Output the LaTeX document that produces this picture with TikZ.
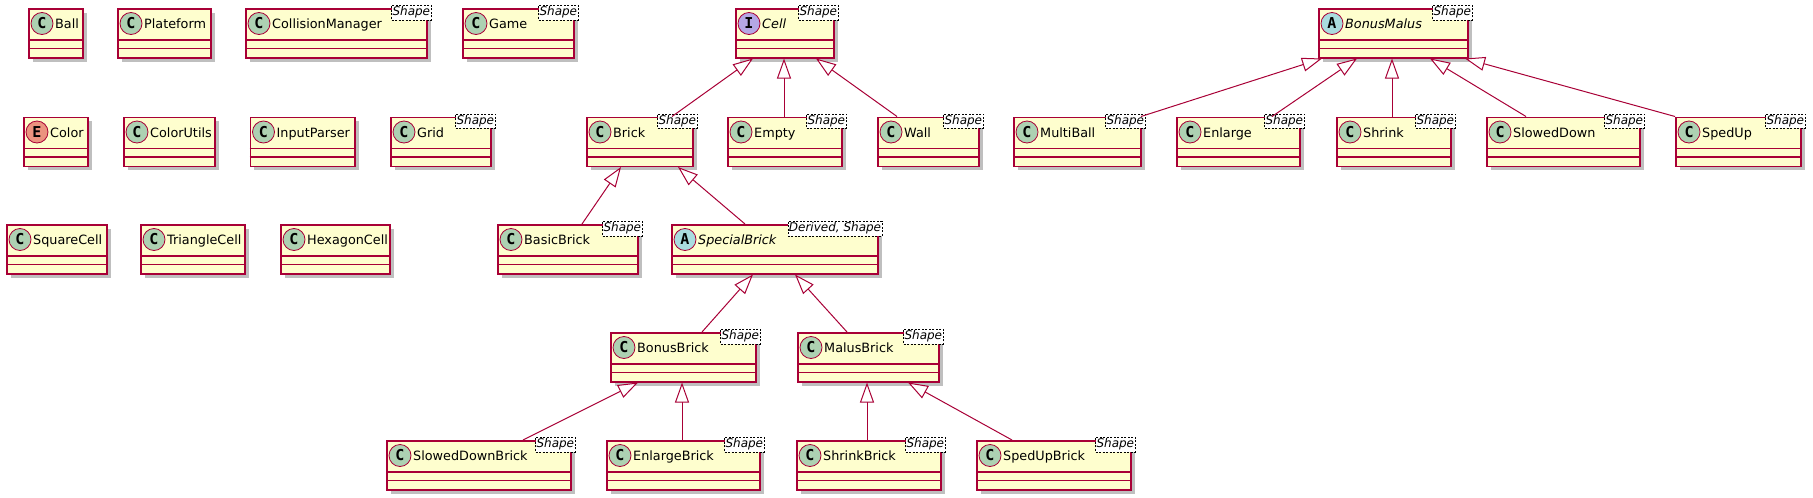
\documentclass[tikz,border=0pt]{standalone}
\usepackage{fontspec}
\setmainfont{DejaVu Sans}
\newfontfamily\iconfont{DejaVu Sans Mono}
\usepackage{tikz}
\usetikzlibrary{arrows.meta,shadows}

\definecolor{umlred}{HTML}{A80036}
\definecolor{umlfill}{HTML}{FEFECE}
\definecolor{iconC}{HTML}{ADD1B2}
\definecolor{iconE}{HTML}{EB937F}
\definecolor{iconI}{HTML}{B4A7E5}
\definecolor{iconA}{HTML}{A9DCDF}

% #1 stereotype, #2 node name, #3 top left, #4 width, #5 letter, #6 icon colour, #7 label
\newcommand{\umlclass}[7][]{%
	\node[classbox, minimum width=#4pt] (#2) at (#3) {};
	\draw[classline] ([yshift=-32pt]#2.north west) -- ([yshift=-32pt]#2.north east);
	\draw[classline] ([yshift=-40.5pt]#2.north west) -- ([yshift=-40.5pt]#2.north east);
	\node[classicon, fill=#6] at ([xshift=14pt, yshift=-15.5pt]#2.north west) {#5};
	\node[classname] at ([xshift=27pt, yshift=-20.5pt]#2.north west) {#7};
	\if\relax\detokenize{#1}\relax\else
		\node[stereo] at ([xshift=4pt, yshift=3pt]#2.north east) {#1};
	\fi}

\begin{document}
\begin{tikzpicture}[
		x=1pt, y=-1pt,
		classbox/.style={draw=umlred, fill=umlfill, line width=1.5pt, minimum height=49pt, inner sep=0pt, anchor=north west,
			drop shadow={shadow xshift=4pt, shadow yshift=-4pt, opacity=0.25, fill=black}},
		classline/.style={draw=umlred, line width=1.5pt},
		classicon/.style={circle, draw=umlred, line width=0.8pt, minimum size=22pt, inner sep=0pt, font=\iconfont\bfseries\fontsize{15}{15}\selectfont},
		classname/.style={anchor=base west, inner sep=0pt, font=\fontsize{12.8}{14}\selectfont},
		stereo/.style={draw, dash pattern=on 2pt off 1.5pt, line width=0.8pt, fill=white, anchor=north east, inner xsep=1pt, inner ysep=1pt,
			text height=9.5pt, text depth=3pt, font=\itshape\fontsize{12}{14}\selectfont},
		ext/.style={draw=umlred, line width=1pt, -{Triangle[length=20pt, width=14pt, fill=white]}},
	]
	\useasboundingbox (0,0) rectangle (1813,498);

	%Nodes
	\umlclass{ball}{28,8}{54}{C}{iconC}{Ball}
	\umlclass{plateform}{117,8}{93}{C}{iconC}{Plateform}
	\umlclass[Shape]{collision}{245,8}{181}{C}{iconC}{CollisionManager}
	\umlclass[Shape]{game}{462,8}{111}{C}{iconC}{Game}
	\umlclass[Shape]{cell}{735,8}{98}{I}{iconI}{\itshape Cell}
	\umlclass[Shape]{bonusmalus}{1318,8}{149}{A}{iconA}{\itshape BonusMalus}

	\umlclass{color}{23,116.5}{64}{E}{iconE}{Color}
	\umlclass{colorutils}{123,116.5}{91}{C}{iconC}{ColorUtils}
	\umlclass{inputparser}{249.5,116.5}{104.5}{C}{iconC}{InputParser}
	\umlclass[Shape]{grid}{390,116.5}{100}{C}{iconC}{Grid}
	\umlclass[Shape]{brick}{586,116.5}{106}{C}{iconC}{Brick}
	\umlclass[Shape]{empty}{727,116.5}{114}{C}{iconC}{Empty}
	\umlclass[Shape]{wall}{877,116.5}{101}{C}{iconC}{Wall}
	\umlclass[Shape]{multiball}{1013,116.5}{127}{C}{iconC}{MultiBall}
	\umlclass[Shape]{enlarge}{1176,116.5}{123}{C}{iconC}{Enlarge}
	\umlclass[Shape]{shrink}{1336,116.5}{114}{C}{iconC}{Shrink}
	\umlclass[Shape]{sloweddown}{1486,116.5}{153}{C}{iconC}{SlowedDown}
	\umlclass[Shape]{spedup}{1675,116.5}{125}{C}{iconC}{SpedUp}

	\umlclass{squarecell}{6,224}{100}{C}{iconC}{SquareCell}
	\umlclass{trianglecell}{140,224}{104}{C}{iconC}{TriangleCell}
	\umlclass{hexagoncell}{280,224}{109}{C}{iconC}{HexagonCell}
	\umlclass[Shape]{basicbrick}{497,224}{140}{C}{iconC}{BasicBrick}
	\umlclass[Derived, Shape]{specialbrick}{671,224}{206}{A}{iconA}{\itshape SpecialBrick}

	\umlclass[Shape]{bonusbrick}{610,332}{145}{C}{iconC}{BonusBrick}
	\umlclass[Shape]{malusbrick}{797,332}{141}{C}{iconC}{MalusBrick}

	\umlclass[Shape]{sloweddownbrick}{386,440}{184}{C}{iconC}{SlowedDownBrick}
	\umlclass[Shape]{enlargebrick}{606,440}{153}{C}{iconC}{EnlargeBrick}
	\umlclass[Shape]{shrinkbrick}{796,440}{144}{C}{iconC}{ShrinkBrick}
	\umlclass[Shape]{spedupbrick}{976,440}{154}{C}{iconC}{SpedUpBrick}

	%Lines
	\draw[ext] ([xshift=86pt]brick.north west) -- ([xshift=18pt]cell.south west);
	\draw[ext] ([xshift=57pt]empty.north west) -- ([xshift=49pt]cell.south west);
	\draw[ext] ([xshift=20pt]wall.north west) -- ([xshift=81pt]cell.south west);

	\draw[ext] ([xshift=128pt]multiball.north west) -- ([xshift=4pt]bonusmalus.south west);
	\draw[ext] ([xshift=96pt]enlarge.north west) -- ([xshift=39pt]bonusmalus.south west);
	\draw[ext] ([xshift=56pt]shrink.north west) -- ([xshift=74pt]bonusmalus.south west);
	\draw[ext] ([xshift=40pt]sloweddown.north west) -- ([xshift=112pt]bonusmalus.south west);
	\draw[ext] (spedup.north west) -- ([xshift=147pt]bonusmalus.south west);

	\draw[ext] ([xshift=85pt]basicbrick.north west) -- ([xshift=35pt]brick.south west);
	\draw[ext] ([xshift=74pt]specialbrick.north west) -- ([xshift=92pt]brick.south west);

	\draw[ext] ([xshift=92pt]bonusbrick.north west) -- ([xshift=82pt]specialbrick.south west);
	\draw[ext] ([xshift=50pt]malusbrick.north west) -- ([xshift=124pt]specialbrick.south west);

	\draw[ext] ([xshift=137pt]sloweddownbrick.north west) -- ([xshift=28pt]bonusbrick.south west);
	\draw[ext] ([xshift=76pt]enlargebrick.north west) -- ([xshift=72pt]bonusbrick.south west);
	\draw[ext] ([xshift=71pt]shrinkbrick.north west) -- ([xshift=70pt]malusbrick.south west);
	\draw[ext] ([xshift=36pt]spedupbrick.north west) -- ([xshift=111pt]malusbrick.south west);
\end{tikzpicture}
\end{document}
